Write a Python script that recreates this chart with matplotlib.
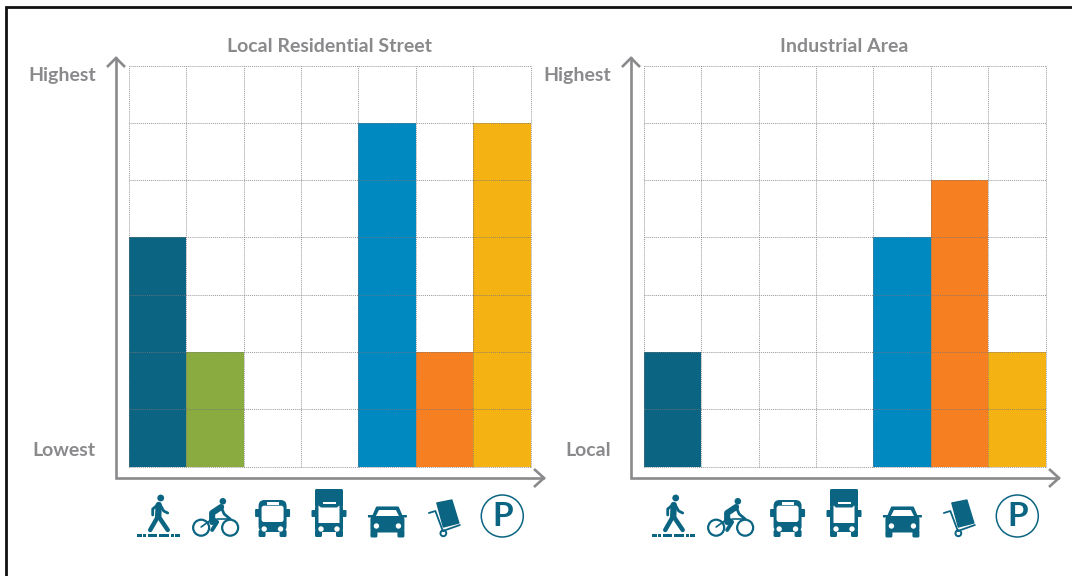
import matplotlib
matplotlib.use("Agg")
import matplotlib.pyplot as plt
from matplotlib.patches import Circle, FancyBboxPatch, Polygon, Rectangle

plt.rcParams['font.family'] = ['Lato', 'DejaVu Sans']

W, H = 1072, 576

# datos
modes = ['walk', 'bike', 'bus', 'truck', 'car', 'freight', 'parking']
mode_colors = ['#0b6482', '#89ab3f', '#0b6482', '#0b6482', '#0089c0', '#f67f21', '#f4b213']
titles = ['Local Residential Street', 'Industrial Area']
residential = [4, 2, 0, 0, 6, 2, 6]
industrial = [2, 0, 0, 0, 4, 5, 2]
top_labels = ['Highest', 'Highest']
bottom_labels = ['Lowest', 'Local']

GRAY = '#8a8a8d'
ICON = '#0b6482'

fig = plt.figure(figsize=(W / 100, H / 100), dpi=100)

# capa en pixeles para ejes, flechas, iconos y textos
over = fig.add_axes([0, 0, 1, 1], zorder=5)
over.set_xlim(0, W)
over.set_ylim(H, 0)
over.axis('off')

# marco negro del recorte
over.plot([5.5, 5.5, W], [H, 7, 7], color='#111111', lw=2, solid_joinstyle='miter')


def line(pts, lw=1.5, color=ICON, cap='round'):
    over.plot([p[0] for p in pts], [p[1] for p in pts], color=color, lw=lw,
              solid_capstyle=cap, solid_joinstyle='round')


def rrect(x0, y0, x1, y1, r=2, color=ICON):
    over.add_patch(FancyBboxPatch((x0 + r, y0 + r), x1 - x0 - 2 * r, y1 - y0 - 2 * r,
                                  boxstyle='round,pad=%f,rounding_size=%f' % (r, r),
                                  fc=color, ec='none'))


def walk_icon(c):
    over.add_patch(Circle((c + 3, 498), 3.4, fc=ICON, ec='none'))
    line([(c + 1, 505), (c + 0.5, 516)], lw=4.6)
    line([(c + 0.5, 516), (c - 7.5, 530)], lw=3.2)
    line([(c + 0.5, 516), (c + 10, 530)], lw=3.2)
    line([(c + 1, 504), (c - 5, 509), (c - 5, 515)], lw=2)
    line([(c + 2, 504), (c + 6, 511), (c + 10, 513)], lw=2)
    for x0, x1 in [(-20.4, -16), (-15, -11.7), (-9.4, -0.4), (1.3, 11.6), (13.3, 16.3), (17.6, 22.3)]:
        over.add_patch(Rectangle((c + x0, 534), x1 - x0, 3.2, fc=ICON, ec='none'))


def bike_icon(c):
    for dx in (-14, 15):
        over.add_patch(Circle((c + dx, 527.7), 8, fc='none', ec=ICON, lw=1.6))
    over.add_patch(Circle((c + 7.7, 501.3), 3.3, fc=ICON, ec='none'))
    line([(c + 6, 507), (c - 3, 513), (c - 3, 522)], lw=4.4)
    line([(c - 3, 518), (c + 2, 522), (c - 3, 530)], lw=2.8)
    line([(c + 6, 507), (c + 9, 514), (c + 15, 519)], lw=2)
    line([(c - 3, 519), (c - 14, 527)], lw=1.2)
    line([(c + 2, 519), (c + 15, 519)], lw=1.2)


def bus_icon(c):
    rrect(c - 17.5, 509, c - 12, 517, r=1)
    rrect(c + 12, 509, c + 17.5, 517, r=1)
    rrect(c - 14, 500, c + 14, 532, r=6)
    rrect(c - 14, 530, c - 7, 537, r=1.5)
    rrect(c + 7, 530, c + 14, 537, r=1.5)
    over.add_patch(Rectangle((c - 6, 502), 12, 3, fc='white', ec='none'))
    rrect(c - 11, 505.7, c + 11, 522, r=2.5, color='white')
    for dx in (-8.4, 8):
        over.add_patch(Circle((c + dx, 529), 2.7, fc='white', ec='none'))


def truck_icon(c):
    c = c - 1
    rrect(c - 14, 489, c + 14, 507, r=1.5)
    rrect(c - 17.5, 510, c - 13, 517, r=1)
    rrect(c + 13, 510, c + 17.5, 517, r=1)
    rrect(c - 14, 505, c + 14, 532, r=3)
    rrect(c - 14, 530, c - 7, 537, r=1.5)
    rrect(c + 7, 530, c + 14, 537, r=1.5)
    over.add_patch(Rectangle((c - 6.5, 501.7), 13, 2.4, fc='white', ec='none'))
    over.add_patch(Polygon([(c - 8, 507.5), (c + 8, 507.5), (c + 10.5, 505.5), (c + 10.5, 523),
                            (c - 10.5, 523), (c - 10.5, 505.5)], fc='white', ec='none'))
    for dx in (-8, 8):
        over.add_patch(Circle((c + dx, 529), 2.7, fc='white', ec='none'))


def car_icon(c):
    over.add_patch(Polygon([(c - 15, 518), (c - 10.5, 507.5), (c + 10.5, 507.5), (c + 15, 518)],
                           fc=ICON, ec=ICON, lw=1.5, joinstyle='round'))
    over.add_patch(Polygon([(c - 12, 517), (c - 8.5, 510), (c + 8.5, 510), (c + 12, 517)], fc='white', ec='none'))
    rrect(c - 17, 516, c + 17, 532.5, r=3.5)
    rrect(c - 19.5, 515, c - 14, 517.5, r=0.6)
    rrect(c + 14, 515, c + 19.5, 517.5, r=0.6)
    rrect(c - 17, 530, c - 10, 537.5, r=1.5)
    rrect(c + 10, 530, c + 17, 537.5, r=1.5)
    for dx in (-11, 11):
        over.add_patch(Circle((c + dx, 526), 2.7, fc='white', ec='none'))


def freight_icon(c):
    over.add_patch(Polygon([(c - 8, 503), (c + 7, 500), (c + 14, 523), (c - 1.5, 527)],
                           fc=ICON, ec=ICON, lw=1, joinstyle='round'))
    line([(c - 16, 513), (c - 9.5, 511), (c - 2, 531)], lw=1.3)
    line([(c - 2, 531), (c + 15, 525)], lw=1.3)
    over.add_patch(Circle((c - 1.5, 533.3), 2.9, fc='white', ec=ICON, lw=1.4))


def parking_icon(c):
    over.add_patch(Circle((c, 516), 21, fc='white', ec=ICON, lw=1.1))
    over.text(c + 0.3, 516.5, 'P', color=ICON, fontsize=24, fontweight='bold', ha='center', va='center')


icon_funcs = [walk_icon, bike_icon, bus_icon, truck_icon, car_icon, freight_icon, parking_icon]


def panel(x0, values, title, top_label, bottom_label):
    ax = fig.add_axes([x0 / W, 1 - 466.5 / H, 401.5 / W, 401 / H], zorder=1)
    ax.bar(range(len(values)), values, width=1, align='edge', color=mode_colors, zorder=1)
    ax.set_xlim(0, 7)
    ax.set_ylim(0, 7)
    ax.set_xticks(range(8))
    ax.set_yticks(range(8))
    ax.grid(True, color='#77777a', lw=0.7, ls=(0, (1, 1)), alpha=0.75, zorder=2)
    ax.set_axisbelow(False)
    ax.tick_params(length=0, labelbottom=False, labelleft=False)
    for s in ax.spines.values():
        s.set_visible(False)
    for g in ax.get_xgridlines() + ax.get_ygridlines():
        g.set_clip_on(False)

    # ejes con flecha
    ax_x = x0 - 13
    ax_y = 478
    over.plot([ax_x, ax_x, x0 + 414], [58, ax_y, ax_y], color=GRAY, lw=1.9, solid_joinstyle='miter')
    over.plot([ax_x - 9, ax_x, ax_x + 9], [67, 58, 67], color=GRAY, lw=1.9, solid_joinstyle='miter', solid_capstyle='butt')
    over.plot([x0 + 405, x0 + 415, x0 + 405], [469, ax_y, 487], color=GRAY, lw=1.9, solid_joinstyle='miter', solid_capstyle='butt')

    over.text(x0 + 200.5, 46, title, color=GRAY, fontsize=14, fontweight='bold', ha='center', va='center')
    over.text(x0 - 33, 75.5, top_label, color=GRAY, fontsize=14, fontweight='bold', ha='right', va='center')
    over.text(x0 - 33, 450, bottom_label, color=GRAY, fontsize=14, fontweight='bold', ha='right', va='center')

    col = 402 / 7
    for i, f in enumerate(icon_funcs):
        f(x0 + col * (i + 0.5))


panel(129, residential, titles[0], top_labels[0], bottom_labels[0])
panel(644, industrial, titles[1], top_labels[1], bottom_labels[1])

fig.savefig('out.png', dpi=100)
